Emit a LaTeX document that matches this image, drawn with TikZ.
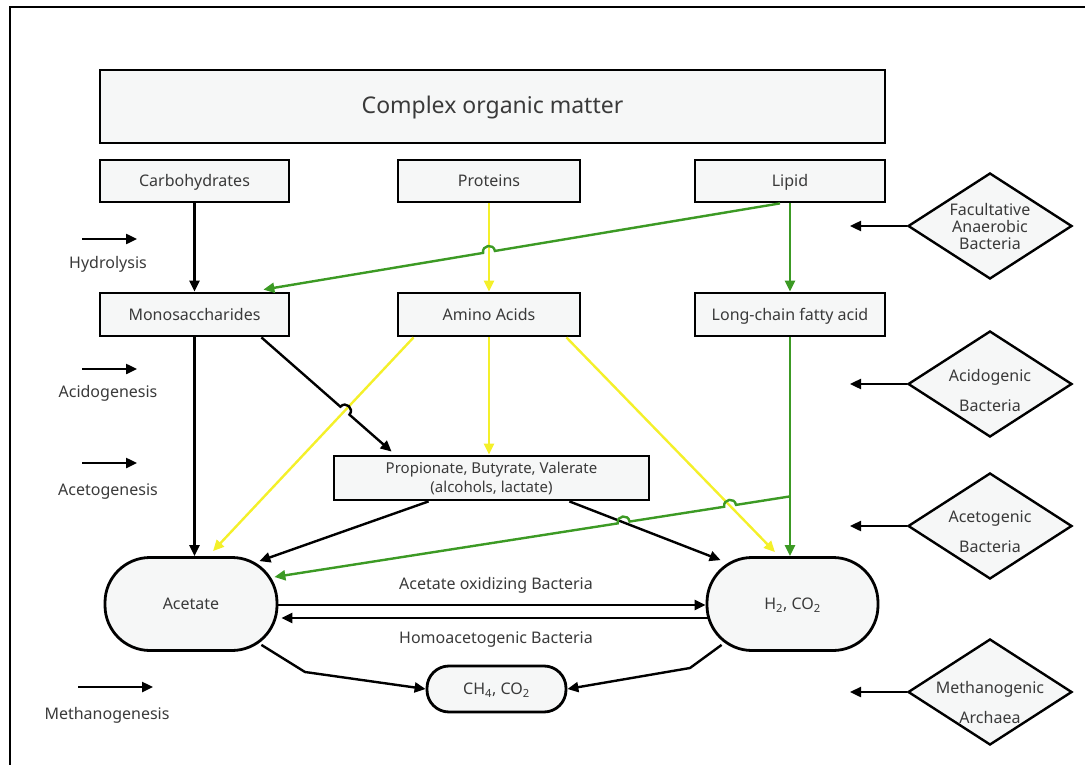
\documentclass[tikz,border=0pt]{standalone}
\usepackage{fontspec}
\setmainfont{Noto Sans}
\usetikzlibrary{shapes.geometric,arrows.meta,calc,positioning}
\definecolor{boxfill}{HTML}{F6F7F7}
\definecolor{txtgray}{HTML}{3A3A3A}
\definecolor{arryellow}{HTML}{F4F02A}
\definecolor{arrgreen}{HTML}{3C9A24}
\begin{document}
\begin{tikzpicture}[x=1pt,y=-1pt,
    txt/.style={text=txtgray,font=\fontsize{16}{19}\selectfont},
    box/.style={draw,line width=2.8pt,fill=boxfill,inner sep=0pt,txt,text height=13pt,text depth=2pt},
    term/.style={box,rounded corners=45pt},
    bact/.style={draw,line width=2.4pt,fill=boxfill,shape=diamond,inner sep=0pt,
        minimum width=164pt,minimum height=106pt},
    blk/.style={line width=2.4pt,-{Triangle[length=11pt,width=10pt]}},
    yel/.style={blk,draw=arryellow},
    grn/.style={blk,draw=arrgreen}]
    \useasboundingbox (0,0) rectangle (1085,765);
    \draw[line width=2.2pt] (10,765) -- (10,7) -- (1085,7);
    % substrates
    \node[box,minimum width=785pt,minimum height=73pt,font=\fontsize{23}{27}\selectfont,text height=18pt,text depth=3pt] (com) at (492.5,106.5) {Complex organic matter};
    \node[box,minimum width=189pt,minimum height=42pt] (carb) at (194.5,181) {Carbohydrates};
    \node[box,minimum width=182pt,minimum height=42pt] (prot) at (489,181) {Proteins};
    \node[box,minimum width=190pt,minimum height=42pt] (lip) at (790,181) {Lipid};
    \node[box,minimum width=189pt,minimum height=43pt] (mono) at (194.5,314.5) {Monosaccharides};
    \node[box,minimum width=182pt,minimum height=43pt] (amino) at (489,314.5) {Amino Acids};
    \node[box,minimum width=190pt,minimum height=43pt] (lcfa) at (790,314.5) {Long-chain fatty acid};
    \node[box,minimum width=315pt,minimum height=44pt,align=center,font=\fontsize{15}{19}\selectfont,text height=,text depth=] (prop) at (491.5,478) {Propionate, Butyrate, Valerate\\(alcohols, lactate)};
    \node[term,minimum width=172pt,minimum height=93pt] (ace) at (191,604) {Acetate};
    \node[term,minimum width=171pt,minimum height=93pt] (h2) at (792.5,604) {H\textsubscript{2}, CO\textsubscript{2}};
    \node[box,rounded corners=22pt,minimum width=139pt,minimum height=46pt] (ch4) at (496.5,689) {CH\textsubscript{4}, CO\textsubscript{2}};
    % bacteria
    \node[bact] (fac) at (990,226) {};
    \node[txt,align=center,font=\fontsize{16}{17}\selectfont] (facT) at (990,226) {Facultative\\Anaerobic\\Bacteria};
    \node[bact] (acid) at (990,384) {};
    \node[txt,align=center,font=\fontsize{16}{30}\selectfont] (acidT) at (990,390) {Acidogenic\\Bacteria};
    \node[bact] (acet) at (990,526) {};
    \node[txt,align=center,font=\fontsize{16}{30}\selectfont] (acetT) at (990,532) {Acetogenic\\Bacteria};
    \node[bact] (meth) at (990,692) {};
    \node[txt,align=center,font=\fontsize{16}{30}\selectfont] (methT) at (990,702) {Methanogenic\\Archaea};
    \coordinate (facE) at (850,226);
    \coordinate (acidE) at (850,384);
    \coordinate (acetE) at (850,526);
    \coordinate (methE) at (850,692);
    \draw[blk] (fac.west) -- (facE);
    \draw[blk] (acid.west) -- (acidE);
    \draw[blk] (acet.west) -- (acetE);
    \draw[blk] (meth.west) -- (methE);
    % stages
    \coordinate (hyA) at (82,239);  \coordinate (hyB) at (137,239);
    \coordinate (adA) at (82,369);  \coordinate (adB) at (137,369);
    \coordinate (atA) at (82,463);  \coordinate (atB) at (137,463);
    \coordinate (mtA) at (78,687);  \coordinate (mtB) at (153,687);
    \draw[blk] (hyA) -- (hyB);
    \draw[blk] (adA) -- (adB);
    \draw[blk] (atA) -- (atB);
    \draw[blk] (mtA) -- (mtB);
    \node[txt] (hyL) at (108,264) {Hydrolysis};
    \node[txt] (adL) at (108,393) {Acidogenesis};
    \node[txt] (atL) at (108,492) {Acetogenesis};
    \node[txt] (mtL) at (107,715) {Methanogenesis};
    % hydrolysis
    \draw[blk] (carb.south) -- (carb.south |- mono.north);
    \draw[yel] (prot.south) -- (amino.north);
    \draw[grn] (lip.south) -- (lcfa.north);
    \coordinate (g1s) at ($(lip.south)+(-10,0)$);
    \coordinate (g1e) at ($(mono.north east)+(-27,-2)$);
    \coordinate (x1) at (intersection of g1s--g1e and prot.south--amino.north);
    \coordinate (x1a) at ($(x1)!6pt!(g1s)$);
    \coordinate (x1b) at ($(x1)!6pt!(g1e)$);
    \draw[grn] (g1s) -- (x1a) .. controls ($(x1a)!8pt!-90:(x1b)$) and ($(x1b)!8pt!90:(x1a)$) .. (x1b) -- (g1e);
    % acidogenesis
    \coordinate (y1s) at ($(amino.south west)+(17,0)$);
    \coordinate (y1e) at ($(ace.north)+(22,-5)$);
    \draw[yel] (y1s) -- (y1e);
    \draw[yel] (amino.south) -- (amino.south |- prop.north);
    \coordinate (y2s) at ($(amino.south east)+(-15,0)$);
    \coordinate (y2e) at ($(h2.north)+(-17.5,-4)$);
    \draw[yel] (y2s) -- (y2e);
    \draw[blk] (mono.south) -- (mono.south |- ace.north);
    \coordinate (b1s) at ($(mono.south east)+(-29,0)$);
    \coordinate (b1e) at ($(prop.north west)+(59,-3)$);
    \coordinate (x2) at (intersection of b1s--b1e and y1s--y1e);
    \coordinate (x2a) at ($(x2)!6pt!(b1s)$);
    \coordinate (x2b) at ($(x2)!6pt!(b1e)$);
    \draw[blk] (b1s) -- (x2a) .. controls ($(x2a)!8pt!90:(x2b)$) and ($(x2b)!8pt!-90:(x2a)$) .. (x2b) -- (b1e);
    \draw[grn] (lcfa.south) -- (lcfa.south |- h2.north);
    % acetogenesis
    \coordinate (b2s) at ($(prop.south west)+(96,0)$);
    \coordinate (b2e) at ($(ace.north east)+(-19,5)$);
    \draw[blk] (b2s) -- (b2e);
    \coordinate (b3s) at ($(prop.south east)+(-81,0)$);
    \coordinate (b3e) at ($(h2.north west)+(15,4)$);
    \draw[blk] (b3s) -- (b3e);
    \coordinate (g2s) at ($(lcfa.south |- prop.south)+(0,-5)$);
    \coordinate (g2e) at ($(ace.east)+(-4,-27)$);
    \coordinate (x3) at (intersection of g2s--g2e and y2s--y2e);
    \coordinate (x3a) at ($(x3)!6pt!(g2s)$);
    \coordinate (x3b) at ($(x3)!6pt!(g2e)$);
    \coordinate (x4) at (intersection of g2s--g2e and b3s--b3e);
    \coordinate (x4a) at ($(x4)!6pt!(g2s)$);
    \coordinate (x4b) at ($(x4)!6pt!(g2e)$);
    \draw[grn] (g2s) -- (x3a) .. controls ($(x3a)!8pt!-90:(x3b)$) and ($(x3b)!8pt!90:(x3a)$) .. (x3b)
        -- (x4a) .. controls ($(x4a)!8pt!-90:(x4b)$) and ($(x4b)!8pt!90:(x4a)$) .. (x4b) -- (g2e);
    % acetate <-> hydrogen
    \draw[blk] ($(ace.east)+(0,1)$) -- ($(h2.west)+(0,1)$);
    \draw[blk] ($(h2.west)+(2,14)$) -- ($(ace.east)+(3,14)$);
    \node[txt] (oxL) at (496,585) {Acetate oxidizing Bacteria};
    \node[txt] (hoL) at (496,640) {Homoacetogenic Bacteria};
    % methanogenesis
    \coordinate (m1) at (305,672);
    \coordinate (m2) at (690,668);
    \draw[blk] ($(ace.south east)+(-17,-7)$) -- (m1) -- (ch4.west);
    \draw[blk] ($(h2.south west)+(16,-7)$) -- (m2) -- (ch4.east);
\end{tikzpicture}
\end{document}
